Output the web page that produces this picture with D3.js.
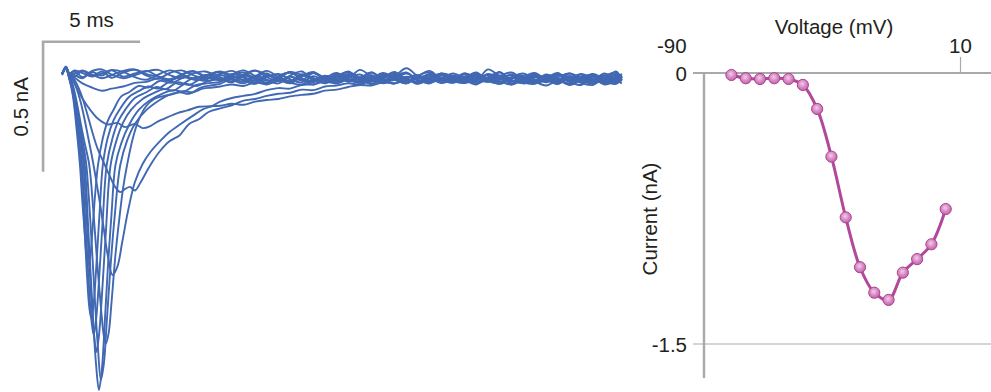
<!DOCTYPE html>
<html>
<head>
<meta charset="utf-8">
<script src="https://cdn.jsdelivr.net/npm/d3@7"></script>
<style>
  body { margin: 0; background: #fff; }
  svg { display: block; font-family: "Liberation Sans", Arial, Helvetica, sans-serif; }
</style>
</head>
<body>
<svg id="chart" width="991" height="392"></svg>
<script>
// ---- Current-voltage relation (peak current per test step) ----
const stepVoltages = [-70, -65, -60, -55, -50, -45, -40, -35, -30, -25, -20, -15, -10, -5, 0, 5]; // mV
const peakCurrents = [-0.011, -0.029, -0.033, -0.029, -0.033, -0.066, -0.199, -0.463,
                      -0.799, -1.075, -1.216, -1.256, -1.105, -1.03, -0.948, -0.753]; // nA
const voltageTicks = [-90, 10];
const currentTicks = [0, -1.5];

// ---- Current traces: time in ms, current in pA ----
// early part of each sweep as [t, I] pairs, then late part sampled on tailTimes
const tailTimes = [8.0, 8.6, 9.2, 9.8, 10.4, 11.0, 11.6, 12.2, 12.8, 13.4, 14.0, 14.6,
                   15.2, 15.8, 16.4, 17.0, 17.6, 18.2, 18.8, 19.4, 20.0, 20.6, 21.2, 21.8,
                   22.4, 23.0, 23.6, 24.2, 24.8, 25.4, 26.0, 26.6, 27.2, 27.8, 28.4, 28.7];

const earlyM70 = [[-0.15,-4],[0.05,22],[0.2,0],[0.5,-14],[0.9,8],[1.4,-12],[1.9,6],[2.4,-18],[3.0,2],[3.6,12],[4.2,-10],[4.8,-22],[5.4,0],[6.0,10],[6.6,-8],[7.2,-20]];
const tailM70 = [-4,8,-14,-30,-8,-20,4,-24,-36,-12,-22,6, -28,-16,-40,-14,2,-30,-20,-38,-10,-26,-44,-18, -24,-6,-34,-42,-20,-30,-12,-38,-46,-22,-32,-16];

const earlyM65 = [[-0.15,-2],[0.05,18],[0.2,-4],[0.5,6],[0.9,-16],[1.4,4],[1.9,-10],[2.4,10],[3.0,-14],[3.6,-2],[4.2,8],[4.8,-12],[5.4,-24],[6.0,-6],[6.6,8],[7.2,-10]];
const tailM65 = [4,-18,-6,10,-16,-30,-10,6,-24,-12,-36,-6, -18,2,-28,-40,-20,-8,-34,-4,-22,-38,-16,-30, -10,-44,-26,-12,-36,-20,-46,-26,-6,-32,-42,-22];

const earlyM60 = [[-0.15,-6],[0.05,24],[0.2,2],[0.5,-8],[0.9,-20],[1.4,8],[1.9,14],[2.4,-6],[3.0,-20],[3.6,-8],[4.2,6],[4.8,12],[5.4,-8],[6.0,-20],[6.6,-2],[7.2,6]];
const tailM60 = [-16,-32,-8,8,-6,-24,-38,-12,4,-20,-10,-30, -16,-42,-22,-4,-32,-12,8,-26,-36,-18,-2,-30, -40,-22,-12,-32,-48,-26,-14,-36,-22,-44,-28,-10];

const earlyM55 = [[-0.15,-2],[0.05,20],[0.2,-2],[0.5,10],[0.9,0],[1.4,-14],[1.9,-2],[2.4,12],[3.0,4],[3.6,-16],[4.2,-26],[4.8,-6],[5.4,10],[6.0,-4],[6.6,-20],[7.2,-10]];
const tailM55 = [6,-10,-26,-12,8,-16,-32,-6,-20,-40,-16,4, -22,-8,-30,-12,18,-14,-36,-22,-2,-20,-30,14, -12,-32,-18,-38,-8,-26,-44,-18,-30,-8,-36,-24];

const earlyM50 = [[-0.15,-8],[0.05,16],[0.2,-6],[0.5,-2],[0.9,10],[1.4,-6],[1.9,-20],[2.4,-8],[3.0,8],[3.6,14],[4.2,-4],[4.8,-14],[5.4,-26],[6.0,-8],[6.6,6],[7.2,-14]];
const tailM50 = [-26,-6,10,-12,-30,-18,4,-8,-26,-36,-6,-20, 12,-14,-32,-12,-22,-42,-16,-4,-30,-38,-12,-22, 4,-32,-16,-40,-26,-8,-32,-46,-14,-26,6,-28];

const earlyM45 = [[-0.15,-4],[0.05,20],[0.2,-4],[0.5,-18],[0.9,-40],[1.4,-56],[1.9,-68],[2.4,-60],[3.0,-52],[3.6,-38],[4.2,-34],[4.8,-20],[5.4,-30],[6.0,-14],[6.6,-24],[7.2,-8]];
const tailM45 = [-22,-34,-8,-18,-38,-12,2,-22,-30,-14,-36,-8, -18,-32,-4,-26,-40,-14,-22,-2,-32,-18,-38,-26, -10,-30,-36,-8,-22,-42,-18,-30,-10,-38,-22,-32];

const earlyM40 = [[-0.15,-4],[0.05,18],[0.2,-8],[0.4,-28],[0.62,-60],[0.9,-98],[1.3,-142],[1.7,-176],[2.2,-198],[2.7,-192],[3.1,-208],[3.6,-196],[4.0,-212],[4.4,-204],[4.8,-186],[5.3,-170],[5.8,-154],[6.3,-144],[6.9,-130],[7.5,-128]];
const tailM40 = [-126,-118,-122,-110,-104,-100,-90,-84,-80,-68,-64,-54, -46,-48,-36,-40,-28,-32,-18,-26,-36,-18,-8,-24, -34,-16,-26,-6,-22,-32,-12,-26,-40,-20,-30,-14];

const earlyM35 = [[-0.15,-4],[0.05,20],[0.2,-6],[0.5,-28],[0.8,-75],[1.1,-145],[1.4,-225],[1.7,-295],[2.0,-345],[2.3,-395],[2.6,-440],[2.85,-458],[3.1,-446],[3.35,-438],[3.6,-452],[3.9,-420],[4.2,-380],[4.5,-342],[4.9,-300],[5.4,-262],[5.9,-240],[6.4,-196],[6.9,-178],[7.4,-150]];
const tailM35 = [-136,-124,-106,-100,-88,-80,-76,-64,-66,-52,-48,-40, -44,-30,-36,-26,-20,-36,-16,-30,-12,-28,-38,-20, -10,-28,-36,-16,-24,-4,-22,-34,-14,-28,-8,-22];

const earlyM30 = [[-0.15,-4],[0.05,22],[0.2,-6],[0.4,-25],[0.6,-60],[0.8,-110],[1.0,-175],[1.2,-250],[1.4,-325],[1.6,-410],[1.8,-500],[2.0,-600],[2.2,-700],[2.45,-777],[2.7,-745],[2.95,-650],[3.25,-530],[3.6,-420],[4.0,-350],[4.4,-304],[4.9,-262],[5.4,-226],[6.0,-194],[6.6,-164],[7.1,-140],[7.6,-126]];
const tailM30 = [-110,-96,-88,-80,-66,-58,-60,-46,-44,-34,-40,-26, -34,-22,-30,-16,-30,-14,-28,-6,-22,-34,-12,-26, -40,-18,-2,-24,-34,-10,-28,-4,-22,-38,-14,-26];

const earlyM25 = [[-0.15,-4],[0.05,22],[0.2,-8],[0.4,-45],[0.6,-110],[0.8,-190],[1.0,-265],[1.25,-354],[1.45,-520],[1.65,-720],[1.85,-900],[2.0,-1010],[2.1,-1042],[2.25,-1000],[2.4,-880],[2.6,-700],[2.8,-560],[3.0,-440],[3.2,-354],[3.5,-250],[3.8,-180],[4.2,-126],[4.6,-100],[5.1,-88],[5.6,-80],[6.1,-70],[6.6,-74],[7.1,-60],[7.6,-56]];
const tailM25 = [-52,-44,-50,-36,-44,-30,-38,-44,-26,-18,-30,-14, -38,-22,0,-20,-34,-10,2,-24,-38,-14,-28,-4, -20,-34,-16,-30,-6,-24,-40,-14,-28,-2,-20,-10];

const earlyM20 = [[-0.15,-4],[0.05,20],[0.2,-10],[0.4,-55],[0.6,-130],[0.8,-215],[1.0,-300],[1.1,-354],[1.3,-560],[1.5,-820],[1.7,-1060],[1.85,-1180],[2.0,-1120],[2.15,-960],[2.35,-740],[2.55,-560],[2.85,-354],[3.2,-260],[3.6,-196],[4.2,-142],[4.8,-108],[5.3,-86],[5.9,-74],[6.4,-80],[7.0,-56],[7.5,-48]];
const tailM20 = [-42,-22,-34,-10,-26,-40,-14,-28,0,-20,-36,-10, -24,-42,-16,-4,-24,-36,-8,-18,-30,-2,-20,-34, -12,-40,-24,-6,-30,-16,-2,-28,-40,-20,-4,-18];

const earlyM15 = [[-0.15,-4],[0.05,22],[0.2,-12],[0.4,-60],[0.6,-145],[0.8,-235],[1.02,-354],[1.2,-600],[1.4,-880],[1.6,-1120],[1.75,-1219],[1.9,-1140],[2.05,-960],[2.2,-760],[2.4,-540],[2.6,-354],[2.9,-270],[3.3,-200],[3.8,-142],[4.4,-104],[5.0,-80],[5.6,-66],[6.1,-72],[6.7,-48],[7.3,-40]];
const tailM15 = [-34,-14,-28,-42,-16,-4,-24,-36,-12,-28,-6,-34, -20,2,-26,-40,-14,-24,-4,-36,-16,-30,-8,-20, -42,-22,-10,-34,-20,0,-30,-16,-6,-34,-24,-4];

const earlyM10 = [[-0.15,-4],[0.05,24],[0.2,-12],[0.4,-65],[0.6,-150],[0.8,-255],[0.95,-354],[1.15,-600],[1.35,-860],[1.5,-1010],[1.62,-1073],[1.75,-1010],[1.9,-860],[2.1,-620],[2.35,-354],[2.65,-260],[3.0,-190],[3.4,-142],[4.0,-100],[4.6,-76],[5.1,-62],[5.6,-68],[6.2,-42],[6.8,-50],[7.4,-30]];
const tailM10 = [-24,-36,-10,-24,-40,-14,2,-20,-34,-10,-24,-4, -30,-14,-38,-20,-2,-26,-40,-10,-24,-6,-34,-16, 2,-26,-38,-12,-24,-42,-14,-30,-4,-24,-38,-12];

const earlyM5 = [[-0.15,-4],[0.05,22],[0.2,-14],[0.4,-70],[0.6,-165],[0.75,-265],[0.88,-354],[1.05,-570],[1.22,-800],[1.36,-950],[1.48,-1008],[1.6,-950],[1.75,-800],[1.95,-560],[2.15,-354],[2.45,-250],[2.75,-185],[3.1,-142],[3.6,-96],[4.2,-74],[4.7,-54],[5.2,-62],[5.8,-36],[6.4,-46],[7.0,-24],[7.5,-30]];
const tailM5 = [-8,-26,-40,-16,-2,-30,-14,-28,-44,-20,0,-24, -38,-16,-30,-6,-20,-40,-24,-8,-34,-20,2,-30, -24,-8,-40,-28,-12,-30,-2,-20,-34,-10,-26,-40];

const earlyP0 = [[-0.15,-4],[0.05,24],[0.2,-14],[0.4,-75],[0.6,-185],[0.72,-280],[0.82,-354],[0.98,-560],[1.12,-760],[1.25,-900],[1.35,-942],[1.46,-900],[1.6,-760],[1.78,-540],[1.95,-354],[2.2,-250],[2.5,-182],[2.8,-142],[3.3,-92],[3.8,-70],[4.3,-52],[4.8,-60],[5.4,-34],[6.0,-44],[6.6,-20],[7.2,-30],[7.6,-12]];
const tailP0 = [-30,-10,2,-24,-38,-16,-30,-6,-20,-38,-12,4, -20,-34,-10,-24,-40,-16,-30,-2,-14,-38,-24,-8, -30,-44,-18,0,-26,-38,-20,-6,-30,-12,2,-20];

const earlyP5 = [[-0.15,-4],[0.05,20],[0.2,-16],[0.4,-85],[0.55,-180],[0.67,-270],[0.77,-354],[0.9,-500],[1.03,-630],[1.12,-710],[1.2,-738],[1.3,-705],[1.42,-600],[1.55,-470],[1.7,-354],[1.95,-250],[2.2,-185],[2.5,-142],[2.9,-90],[3.3,-74],[3.8,-50],[4.3,-56],[4.9,-30],[5.5,-38],[6.2,-16],[6.8,-28],[7.4,-10]];
const tailP5 = [-26,-4,-18,-36,-10,-24,-40,-14,0,-24,-38,-20, -6,-28,-16,4,-30,-20,-8,-38,-24,-2,-20,-34, -12,2,-24,-38,-16,-6,-34,-24,-10,-40,-18,-4];

const sweeps = [
  [earlyM70, tailM70], [earlyM65, tailM65], [earlyM60, tailM60], [earlyM55, tailM55],
  [earlyM50, tailM50], [earlyM45, tailM45], [earlyM40, tailM40], [earlyM35, tailM35],
  [earlyM30, tailM30], [earlyM25, tailM25], [earlyM20, tailM20], [earlyM15, tailM15],
  [earlyM10, tailM10], [earlyM5, tailM5], [earlyP0, tailP0], [earlyP5, tailP5]
].map(([early, tail]) => early.concat(tailTimes.map((t, i) => [t, tail[i]])));

// scale bars for the traces
const barTime = 5;      // ms
const barCurrent = 500; // pA (0.5 nA)
const barOrigin = [-1.13, 120]; // corner of the L-shaped bar, [ms, pA]

// ---- drawing ----
const svg = d3.select("#chart");
const textColor = "#231f20";
const axisGrey = "#a7a9ac";
const fontSize = 20.5;

// traces
const xT = d3.scaleLinear().domain([0, 28.7]).range([65, 621.8]);
const yT = d3.scaleLinear().domain([0, -500]).range([73, 203]);

const traceLine = d3.line()
  .x(d => xT(d[0]))
  .y(d => yT(d[1]))
  .curve(d3.curveCatmullRom.alpha(0.5));

svg.append("g")
  .selectAll("path")
  .data(sweeps)
  .join("path")
  .attr("d", traceLine)
  .attr("fill", "none")
  .attr("stroke", "#4068b3")
  .attr("stroke-width", 1.9)
  .attr("stroke-linejoin", "round");

// L-shaped scale bar
const bx0 = xT(barOrigin[0]), by0 = yT(barOrigin[1]);
const bx1 = xT(barOrigin[0] + barTime), by1 = yT(barOrigin[1] - barCurrent);
svg.append("path")
  .attr("d", `M${bx0},${by1}V${by0}H${bx1}`)
  .attr("fill", "none")
  .attr("stroke", axisGrey)
  .attr("stroke-width", 2.6);

svg.append("text")
  .attr("x", (bx0 + bx1) / 2)
  .attr("y", 27)
  .attr("text-anchor", "middle")
  .attr("font-size", fontSize)
  .attr("fill", textColor)
  .text("5 ms");

svg.append("text")
  .attr("transform", `translate(28,${(by0 + by1) / 2}) rotate(-90)`)
  .attr("text-anchor", "middle")
  .attr("font-size", fontSize)
  .attr("fill", textColor)
  .text("0.5 nA");

// I-V panel
const xV = d3.scaleLinear().domain([-90, 10]).range([674.3, 960]);
const yI = d3.scaleLinear().domain([0, -1.5]).range([73, 344]);
const ivLeft = 693, ivRight = 991, yAxisX = 704;
const plainNumber = d => (d < 0 ? "-" : "") + Math.abs(d);

// horizontal reference lines at the current ticks
svg.append("g")
  .selectAll("line")
  .data(currentTicks)
  .join("line")
  .attr("x1", ivLeft).attr("x2", ivRight)
  .attr("y1", d => yI(d)).attr("y2", d => yI(d))
  .attr("stroke", axisGrey)
  .attr("stroke-width", d => d === 0 ? 1.8 : 1.2);

// vertical axis line
svg.append("line")
  .attr("x1", yAxisX).attr("x2", yAxisX)
  .attr("y1", yI(0)).attr("y2", 378)
  .attr("stroke", axisGrey)
  .attr("stroke-width", 2.4);

// voltage axis along the top
const xAxis = d3.axisTop(xV).tickValues(voltageTicks).tickSize(16).tickFormat(plainNumber);
const gx = svg.append("g").attr("transform", `translate(0,${yI(0)})`).call(xAxis);
gx.select(".domain").remove();
gx.selectAll(".tick line").attr("stroke", axisGrey).attr("stroke-width", 1.2)
  .filter(d => d === -90).remove();
gx.selectAll(".tick text")
  .attr("font-size", fontSize)
  .attr("font-family", "Liberation Sans, Arial, sans-serif")
  .attr("fill", textColor)
  .attr("y", -20)
  .attr("dy", 0)
  .attr("dx", d => d === -90 ? -3 : 0);

// current tick labels
const yAxis = d3.axisLeft(yI).tickValues(currentTicks).tickSize(0).tickFormat(plainNumber);
const gy = svg.append("g").attr("transform", `translate(${ivLeft - 6},0)`).call(yAxis);
gy.select(".domain").remove();
gy.selectAll(".tick text")
  .attr("font-size", fontSize)
  .attr("font-family", "Liberation Sans, Arial, sans-serif")
  .attr("fill", textColor)
  .attr("x", 0)
  .attr("dy", "0.36em");

svg.append("text")
  .attr("x", 834).attr("y", 34)
  .attr("text-anchor", "middle")
  .attr("font-size", fontSize)
  .attr("fill", textColor)
  .text("Voltage (mV)");

svg.append("text")
  .attr("transform", "translate(657,219) rotate(-90)")
  .attr("text-anchor", "middle")
  .attr("font-size", fontSize)
  .attr("fill", textColor)
  .text("Current (nA)");

// I-V curve and markers
const defs = svg.append("defs");
const grad = defs.append("radialGradient").attr("id", "ivDot").attr("cx", "45%").attr("cy", "40%").attr("r", "60%");
grad.append("stop").attr("offset", "0%").attr("stop-color", "#f3cde8");
grad.append("stop").attr("offset", "55%").attr("stop-color", "#d98ac6");
grad.append("stop").attr("offset", "100%").attr("stop-color", "#c064ab");

const ivData = stepVoltages.map((v, i) => [v, peakCurrents[i]]);
svg.append("path")
  .datum(ivData)
  .attr("d", d3.line().x(d => xV(d[0])).y(d => yI(d[1])).curve(d3.curveCatmullRom.alpha(0.5)))
  .attr("fill", "none")
  .attr("stroke", "#b2479c")
  .attr("stroke-width", 3);

svg.append("g")
  .selectAll("circle")
  .data(ivData)
  .join("circle")
  .attr("cx", d => xV(d[0]))
  .attr("cy", d => yI(d[1]))
  .attr("r", 5.6)
  .attr("fill", "url(#ivDot)")
  .attr("stroke", "#a8438f")
  .attr("stroke-width", 1);
</script>
</body>
</html>
